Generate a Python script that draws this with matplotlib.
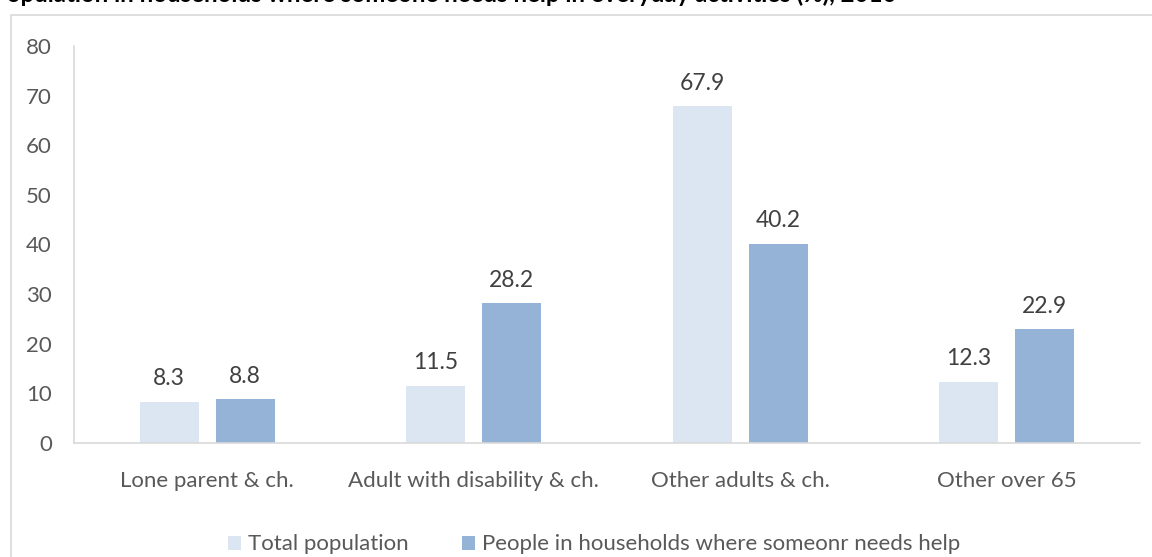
import matplotlib
matplotlib.use("Agg")
import numpy as np
import matplotlib.pyplot as plt
from matplotlib.patches import Rectangle

categories = ["Lone parent & ch.", "Adult with disability & ch.", "Other adults & ch.", "Other over 65"]
total_population = [8.3, 11.5, 67.9, 12.3]
needs_help = [8.8, 28.2, 40.2, 22.9]
series_names = ["Total population", "People in households where someonr needs help"]
title = "Population in households where someone needs help in everyday activities (%), 2010"

plt.rcParams["font.family"] = ["Lato", "DejaVu Sans"]

fig = plt.figure(figsize=(11.52, 5.57), dpi=100)
ax = fig.add_axes([74 / 1152, 1 - 443 / 557, (1140 - 74) / 1152, (443 - 46) / 557])

# chart border (goes off the right and bottom edges)
fig.patches.append(Rectangle((11 / 1152, -0.1), 1.2, 1.1 - 15 / 557,
                             transform=fig.transFigure, fill=False,
                             edgecolor="#D9D9D9", linewidth=1.2))

# title, clipped at the top like in the source
fig.text(897 / 1152, 1 - 2 / 557, title, ha="right", va="baseline",
         fontsize=17.3, fontweight="bold", color="black")

x = np.arange(len(categories))
w = 0.223
off = 0.1426
b1 = ax.bar(x - off, total_population, w, color="#DCE6F2", label=series_names[0])
b2 = ax.bar(x + off, needs_help, w, color="#95B3D7", label=series_names[1])

for bars, vals in [(b1, total_population), (b2, needs_help)]:
    for r, v in zip(bars, vals):
        ax.annotate(f"{v:.1f}", (r.get_x() + r.get_width() / 2, v),
                    xytext=(0, 9), textcoords="offset points",
                    ha="center", va="bottom", fontsize=16.5, color="#404040")

ax.set_xlim(-0.5, len(categories) - 0.5)
ax.set_ylim(0, 80)
ax.set_yticks(range(0, 81, 10))
ax.set_xticks(x)
ax.set_xticklabels(categories)
ax.tick_params(axis="both", length=0, labelsize=16, labelcolor="#595959")
ax.tick_params(axis="x", pad=20)
ax.tick_params(axis="y", pad=16)

for s in ["top", "right"]:
    ax.spines[s].set_visible(False)
for s in ["left", "bottom"]:
    ax.spines[s].set_color("#D9D9D9")
    ax.spines[s].set_linewidth(1.2)

fig.legend(handles=[b1, b2], labels=series_names, loc="center",
           bbox_to_anchor=(594 / 1152, 1 - 544.5 / 557), ncol=2, frameon=False,
           fontsize=16, labelcolor="#595959", handlelength=0.6, handleheight=0.6,
           handletextpad=0.3, columnspacing=2.4)

fig.savefig("out.png", dpi=100)
